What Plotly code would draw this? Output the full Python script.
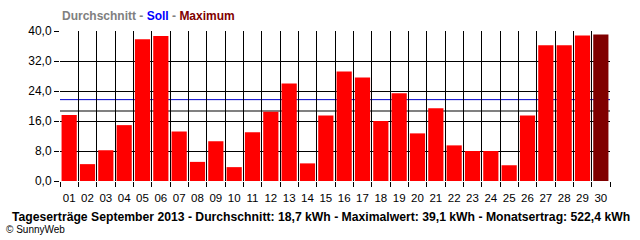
import plotly.graph_objects as go

days = [f"{d:02d}" for d in range(1, 31)]
values = [17.6, 4.5, 8.2, 14.9, 37.8, 38.7, 13.2, 5.1, 10.6, 3.7,
          13.0, 18.5, 26.0, 4.7, 17.5, 29.2, 27.6, 16.0, 23.4, 12.7,
          19.4, 9.5, 8.0, 8.0, 4.2, 17.5, 36.2, 36.2, 38.8, 39.1]
average = 18.7
target = 21.7
y_ticks = [0, 8, 16, 24, 32, 40]
title_text = ("Tageserträge September 2013 - Durchschnitt: 18,7 kWh - "
              "Maximalwert: 39,1 kWh - Monatsertrag: 522,4 kWh")

FONT = "Liberation Sans"
xpos = list(range(1, len(days) + 1))
vmax = max(values)
colors = ["#800000" if v == vmax else "#FF0000" for v in values]

fig = go.Figure()
fig.add_trace(go.Bar(x=xpos, y=values, marker=dict(color=colors, line=dict(width=0)),
                     hoverinfo="skip", showlegend=False))

fig.update_layout(
    width=640, height=240,
    margin=dict(l=60, r=30, t=31, b=59),
    paper_bgcolor="white", plot_bgcolor="white",
    separators=",.",
    bargap=0.17,
    font=dict(family=FONT, size=11, color="black"),
    xaxis=dict(range=[0.5, 30.5], tickvals=xpos, ticktext=days, showgrid=False,
               zeroline=False, ticks="outside", ticklen=6,
               tickcolor="rgba(0,0,0,0)",
               tickfont=dict(family=FONT, size=11.5, color="black")),
    xaxis2=dict(range=[0.5, 30.5], overlaying="x", anchor="y", side="bottom",
                tickvals=[i + 0.5 for i in range(0, 31)], showticklabels=False,
                showgrid=True, gridcolor="black", gridwidth=1, zeroline=False,
                ticks="outside", ticklen=5, tickcolor="black", tickwidth=1),
    yaxis=dict(range=[0, 40], tickvals=y_ticks, tickformat=".1f", showgrid=True,
               gridcolor="black", gridwidth=1, zeroline=False, ticks="outside",
               ticklen=5, tickcolor="black", tickwidth=1,
               tickfont=dict(family=FONT, size=12, color="black")),
    shapes=[
        dict(type="line", xref="paper", yref="y", x0=0, x1=1, y0=target, y1=target,
             line=dict(color="#0000CC", width=1), layer="between"),
        dict(type="line", xref="paper", yref="y", x0=0, x1=1, y0=average, y1=average,
             line=dict(color="#808080", width=2), layer="between"),
    ],
    annotations=[
        dict(xref="paper", yref="paper", x=0, y=1.1, xanchor="left", yanchor="middle",
             showarrow=False,
             text=("<b><span style='color:#808080'>Durchschnitt</span>"
                   "<span style='color:#808080'> - </span>"
                   "<span style='color:#0000FF'>Soll</span>"
                   "<span style='color:#808080'> - </span>"
                   "<span style='color:#800000'>Maximum</span></b>"),
             font=dict(family=FONT, size=12)),
        dict(xref="paper", yref="paper", x=0.4745, y=-0.24, xanchor="center",
             yanchor="middle", showarrow=False, text=f"<b>{title_text}</b>",
             font=dict(family=FONT, size=12.2, color="black")),
        dict(xref="paper", yref="paper", x=-0.1018, y=-0.325, xanchor="left",
             yanchor="middle", showarrow=False, text="© SunnyWeb",
             font=dict(family=FONT, size=10, color="black")),
    ],
)
# invisible trace on xaxis2 so the boundary grid/ticks render
fig.add_trace(go.Scatter(x=[0.5], y=[0], xaxis="x2", mode="markers",
                         marker=dict(opacity=0), hoverinfo="skip", showlegend=False))

fig.write_html("out.html")
